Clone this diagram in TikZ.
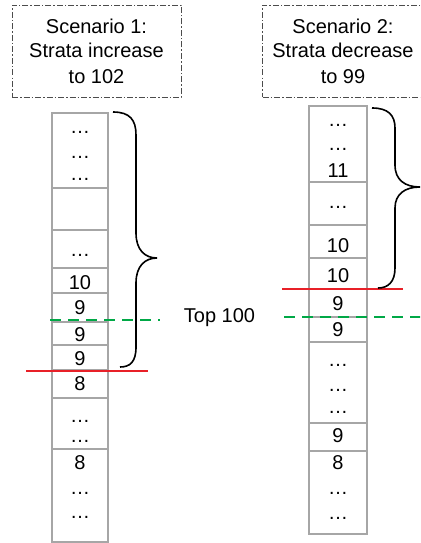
\documentclass[tikz,border=0pt]{standalone}
\usepackage{fontspec}
\setmainfont{Liberation Sans}
\definecolor{rlcol}{RGB}{232,32,40}
\definecolor{glcol}{RGB}{0,168,70}
\begin{document}
\begin{tikzpicture}[x=1pt,y=-1pt,
  every node/.style={font=\fontsize{20}{25}\selectfont},
  scen/.style={draw=black!70, line width=0.9pt, dash pattern=on 6pt off 2pt on 1.5pt off 2pt, minimum width=169pt, minimum height=92pt, inner sep=0pt},
  scentext/.style={anchor=base, align=center, inner sep=0pt},
  cell/.style={draw=black!35, line width=1.1pt, inner sep=0pt, outer sep=0pt, anchor=north west},
  lcell/.style={cell, minimum width=56pt},
  rcell/.style={cell, minimum width=58pt},
  val/.style={anchor=base, inner sep=0pt},
  redline/.style={draw=rlcol, line width=1.5pt},
  greenline/.style={draw=glcol, line width=2.5pt, dash pattern=on 11pt off 7pt},
  brace/.style={draw=black, line width=1.6pt}
]
\useasboundingbox (0,0) rectangle (420,543);
\clip (0,0) rectangle (420,543);

% scenario boxes
\node[scen] (s1) at (96.5,51) {};
\node[scentext] (s1t) at (96.5,83) {Scenario 1:\\Strata increase\\to 102};
\node[scen] (s2) at (347,51) {};
\node[scentext] (s2t) at (343,83) {Scenario 2:\\Strata decrease\\to 99};

% left column
\node[lcell, minimum height=75pt] (la) at (52,113) {};
\node[lcell, minimum height=42pt] (lb) at (52,188) {};
\node[lcell, minimum height=38pt] (lc) at (52,230) {};
\node[lcell, minimum height=25pt] (ld) at (52,268) {};
\node[lcell, minimum height=29pt] (le) at (52,293) {};
\node[lcell, minimum height=23pt] (lf) at (52,322) {};
\node[lcell, minimum height=25pt] (lg) at (52,345) {};
\node[lcell, minimum height=28pt] (lh) at (52,370) {};
\node[lcell, minimum height=51pt] (li) at (52,398) {};
\node[lcell, minimum height=93pt] (lj) at (52,449) {};

\node[val] (la1) at (80,133) {…};
\node[val] (la2) at (80,158) {…};
\node[val] (la3) at (80,180) {…};
\node[val] (lc1) at (80,256) {…};
\node[val] (ld1) at (80,289) {10};
\node[val] (le1) at (80,314) {9};
\node[val] (lf1) at (80,341) {9};
\node[val] (lg1) at (80,365) {9};
\node[val] (lh1) at (80,390) {8};
\node[val] (li1) at (80,422) {…};
\node[val] (li2) at (80,442) {…};
\node[val] (lj1) at (80,469) {8};
\node[val] (lj2) at (80,494) {…};
\node[val] (lj3) at (80,518) {…};

% right column
\node[rcell, minimum height=76pt] (ra) at (309,106) {};
\node[rcell, minimum height=43pt] (rb) at (309,182) {};
\node[rcell, minimum height=33pt] (rc) at (309,225) {};
\node[rcell, minimum height=31pt] (rd) at (309,258) {};
\node[rcell, minimum height=28pt] (re) at (309,289) {};
\node[rcell, minimum height=25pt] (rf) at (309,317) {};
\node[rcell, minimum height=81pt] (rg) at (309,342) {};
\node[rcell, minimum height=28pt] (rh) at (309,423) {};
\node[rcell, minimum height=83pt] (ri) at (309,451) {};

\node[val] (ra1) at (338,126) {…};
\node[val] (ra2) at (338,150) {…};
\node[val] (ra3) at (338,177) {11};
\node[val] (rb1) at (338,208) {…};
\node[val] (rc1) at (338,252) {10};
\node[val] (rd1) at (338,282) {10};
\node[val] (re1) at (338,310) {9};
\node[val] (rf1) at (338,336) {9};
\node[val] (rg1) at (338,366) {…};
\node[val] (rg2) at (338,391) {…};
\node[val] (rg3) at (338,413) {…};
\node[val] (rh1) at (338,442) {9};
\node[val] (ri1) at (338,469) {8};
\node[val] (ri2) at (338,494) {…};
\node[val] (ri3) at (338,519) {…};

% top 100 label
\node[val] (top) at (219.5,322) {Top 100};

% lines
\coordinate (lr1) at (26,371);
\coordinate (lr2) at (148,371);
\draw[redline] (lr1) -- (lr2);
\coordinate (rr1) at (282,289);
\coordinate (rr2) at (403,289);
\draw[redline] (rr1) -- (rr2);
\coordinate (lg1s) at (50,320);
\coordinate (lg1e) at (160,320);
\draw[greenline] (lg1s) -- (lg1e);
\coordinate (rg1s) at (284,317);
\coordinate (rg1e) at (425,317);
\draw[greenline] (rg1s) -- (rg1e);

% braces
\draw[brace] (113,112) .. controls (130,112) and (136,120) .. (136,135) -- (136,233)
  .. controls (136,250) and (145,258) .. (157,258)
  .. controls (145,258) and (136,266) .. (136,283) -- (136,347)
  .. controls (136,362) and (130,367) .. (120,367);
\draw[brace] (372,108) .. controls (388,108) and (395,115) .. (395,128) -- (395,165)
  .. controls (395,180) and (405,187) .. (420,187)
  .. controls (405,187) and (395,194) .. (395,208) -- (395,268)
  .. controls (395,282) and (388,288) .. (378,288);
\end{tikzpicture}
\end{document}
